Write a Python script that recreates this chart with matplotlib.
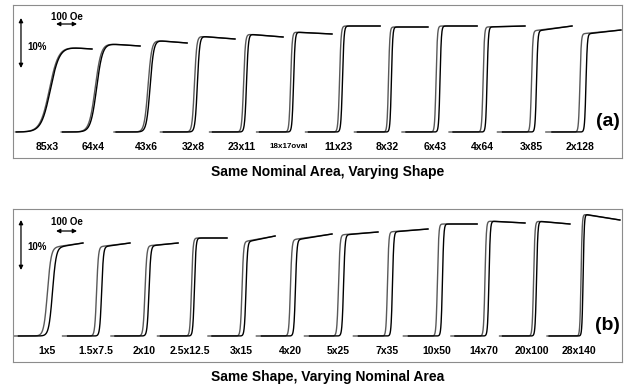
import numpy as np
import matplotlib
matplotlib.use("Agg")
import matplotlib.pyplot as plt

plt.rcParams["font.family"] = ["Liberation Sans", "DejaVu Sans"]
plt.rcParams["font.weight"] = "bold"

# (a) same nominal area, varying shape -- field in Oe, signal in % (0 = baseline)
labels_a = ["85x3", "64x4", "43x6", "32x8", "23x11", "18x17oval",
            "11x23", "8x32", "6x43", "4x64", "3x85", "2x128"]
switch_a = [176, 395, 648, 871, 1105, 1329, 1562, 1795, 2024, 2248, 2481, 2714]
rise_a = [95, 62, 38, 24, 19, 16, 16, 14, 14, 14, 14, 14]
hyst_a = [5, 7, 10, 14, 14, 14, 14, 14, 19, 19, 24, 29]
top_knee_a = [17.2, 17.8, 18.4, 19.2, 19.6, 20.0, 21.2, 21.0, 21.2, 21.0, 20.2, 19.6]
top_end_a = [16.6, 17.2, 17.8, 18.6, 19.0, 19.6, 21.2, 21.0, 21.2, 21.2, 21.2, 20.4]
end_a = [376, 605, 829, 1057, 1286, 1519, 1748, 1976, 2210, 2438, 2662, 2895]

# (b) same shape, varying nominal area
labels_b = ["1x5", "1.5x7.5", "2x10", "2.5x12.5", "3x15", "4x20",
            "5x25", "7x35", "10x50", "14x70", "20x100", "28x140"]
switch_b = [176, 410, 638, 857, 1100, 1333, 1562, 1795, 2033, 2257, 2486, 2710]
rise_b = [38, 19, 19, 16, 16, 16, 16, 14, 14, 14, 14, 12]
hyst_b = [24, 24, 19, 14, 19, 24, 24, 24, 24, 19, 14, 10]
top_knee_b = [17.6, 17.8, 18.0, 19.6, 18.8, 19.2, 20.2, 20.8, 22.4, 23.0, 23.0, 24.4]
top_end_b = [18.6, 18.6, 18.6, 19.6, 20.0, 20.4, 20.8, 21.4, 22.4, 22.6, 22.4, 23.2]
end_b = [333, 557, 786, 1019, 1248, 1519, 1738, 1976, 2210, 2438, 2652, 2890]


def branch(ax, xc, rise, top0, top1, x_end, color):
    x = np.linspace(max(xc - 162, 0), x_end, 400)
    s = 0.5 * (1 + np.tanh((x - xc) / (rise / 2.2)))
    frac = np.clip((x - xc) / (x_end - xc), 0, 1)
    ax.plot(x, s * (top0 + (top1 - top0) * frac), color=color, lw=1.0)


def panel(ax, labels, switch, rise, hyst, knee, end_top, x_end, tag, small):
    for i, lab in enumerate(labels):
        xc = switch[i]
        branch(ax, xc - hyst[i] / 2, rise[i], knee[i], end_top[i], x_end[i], "0.35")
        branch(ax, xc + hyst[i] / 2, rise[i], knee[i], end_top[i], x_end[i], "k")
        fs = 5.8 if lab in small else 7.5
        ax.text(xc - 14, -2.9, lab, ha="center", va="center", fontsize=fs,
                fontweight="bold")
    ax.text(2833, 2.2, tag, ha="center", va="center", fontsize=14,
            fontweight="bold")
    ax.set_xlim(0, 2900)
    ax.set_ylim(-5.2, 25.4)
    ax.set_xticks([])
    ax.set_yticks([])
    for sp in ax.spines.values():
        sp.set_color("0.55")
        sp.set_linewidth(0.8)


def scale_bars(ax, y_oe, y_bar, y_lo, y_pct):
    arrow = dict(arrowstyle="<|-|>", lw=0.9, color="k", mutation_scale=6,
                 shrinkA=0, shrinkB=0)
    ax.annotate("", xy=(205, y_bar), xytext=(305, y_bar), arrowprops=arrow)
    ax.annotate("", xy=(38, y_lo), xytext=(38, y_lo + 10), arrowprops=arrow)
    ax.text(257, y_oe, "100 Oe", ha="center", va="center", fontsize=7,
            fontweight="bold")
    ax.text(67, y_pct, "10%", ha="left", va="center", fontsize=7,
            fontweight="bold")


fig = plt.figure(figsize=(6.24, 3.87), dpi=100)
ax_a = fig.add_axes([13 / 624, 1 - 158 / 387, 609 / 624, 153 / 387])
ax_b = fig.add_axes([13 / 624, 1 - 362 / 387, 609 / 624, 153 / 387])

panel(ax_a, labels_a, switch_a, rise_a, hyst_a, top_knee_a, top_end_a, end_a,
      "(a)", ["18x17oval"])
panel(ax_b, labels_b, switch_b, rise_b, hyst_b, top_knee_b, top_end_b, end_b,
      "(b)", [])
scale_bars(ax_a, 23.1, 21.6, 12.8, 17.0)
scale_bars(ax_b, 22.8, 21.0, 13.2, 17.8)

fig.text(328 / 624, 1 - 172 / 387, "Same Nominal Area, Varying Shape",
         ha="center", va="center", fontsize=10, fontweight="bold")
fig.text(328 / 624, 1 - 377 / 387, "Same Shape, Varying Nominal Area",
         ha="center", va="center", fontsize=10, fontweight="bold")

fig.savefig("out.png", dpi=100)
